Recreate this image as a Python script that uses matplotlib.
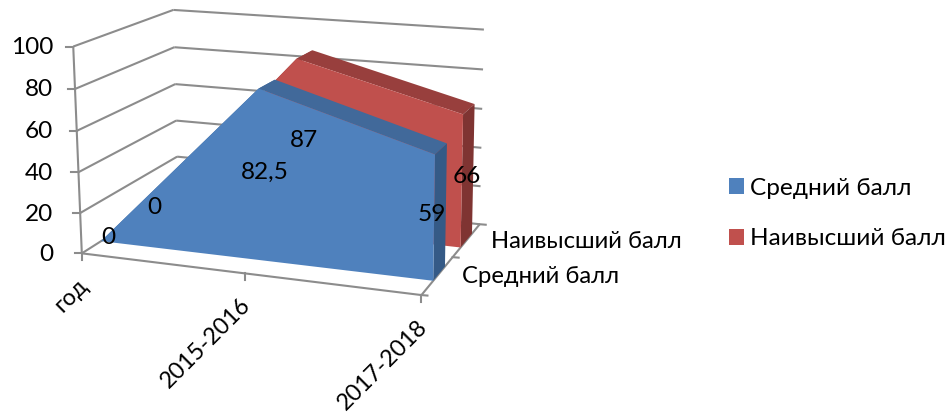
import matplotlib
matplotlib.use('Agg')
import matplotlib.pyplot as plt
import numpy as np

plt.rcParams['font.family'] = ['Lato', 'Open Sans', 'DejaVu Sans']

categories = ['год', '2015-2016', '2017-2018']
series_names = ['Средний балл', 'Наивысший балл']
avg_score = [0, 82.5, 59]
top_score = [0, 87, 66]
value_labels_avg = ['0', '82,5', '59']
value_labels_top = ['0', '87', '66']
y_ticks = [0, 20, 40, 60, 80, 100]

GRID = '#8c8c8c'
FS = 17.6

# walls of the 3d box: (x 0..1, depth 0..1, value 0..100) -> picture pixels
corners = [
    ((0, 0, 0), (82, 253)),
    ((1, 0, 0), (421, 296)),
    ((0, 1, 0), (178, 193)),
    ((1, 1, 0), (480, 223)),
    ((0, 0, 1), (73.5, 46)),
    ((0, 1, 1), (173, 10)),
    ((1, 1, 1), (484, 30)),
]


def fit_camera():
    rows = []
    for (X, Y, Z), (u, v) in corners:
        rows.append([X, Y, Z, 1, 0, 0, 0, 0, -u * X, -u * Y, -u * Z, -u])
        rows.append([0, 0, 0, 0, X, Y, Z, 1, -v * X, -v * Y, -v * Z, -v])
    return np.linalg.svd(np.array(rows))[2][-1].reshape(3, 4)


cam = fit_camera()


def project(x, d, val):
    p = cam @ np.array([x, d, val / 100, 1.0])
    return p[0] / p[2], p[1] / p[2]


def line(ax, a, b, lw=1.5):
    pa, pb = project(*a), project(*b)
    ax.plot([pa[0], pb[0]], [pa[1], pb[1]], color=GRID, lw=lw, solid_capstyle='butt', zorder=1)


def draw_area(ax, vals, d0, d1, front, top, side):
    xs = np.linspace(0, 1, len(vals))
    for i in range(len(vals) - 1):
        q = [project(xs[i], d0, vals[i]), project(xs[i + 1], d0, vals[i + 1]),
             project(xs[i + 1], d1, vals[i + 1]), project(xs[i], d1, vals[i])]
        ax.fill(*zip(*q), color=top, lw=0, zorder=2)
    q = [project(1, d0, 0), project(1, d1, 0), project(1, d1, vals[-1]), project(1, d0, vals[-1])]
    ax.fill(*zip(*q), color=side, lw=0, zorder=2)
    q = [project(x, d0, v) for x, v in zip(xs, vals)] + [project(1, d0, 0), project(0, d0, 0)]
    return ax.fill(*zip(*q), color=front, lw=0, zorder=2)[0]


fig = plt.figure(figsize=(9.48, 4.12), dpi=100)
ax = fig.add_axes([0, 0, 1, 1])
ax.set_xlim(0, 948)
ax.set_ylim(412, 0)
ax.axis('off')

# walls and floor
for t in y_ticks:
    if t > 0:
        line(ax, (0, 0, t), (0, 1, t))
        line(ax, (0, 1, t), (1, 1, t))
    tx, ty = project(0, 0, t)
    ax.plot([tx - 7, tx], [ty, ty], color=GRID, lw=1.5, zorder=1)
    ax.text(53, ty + 1, str(t), ha='right', va='center', fontsize=FS)
line(ax, (0, 0, 0), (0, 0, 100))
line(ax, (0, 0, 0), (1, 0, 0))
line(ax, (1, 0, 0), (1, 1, 0))
line(ax, (0, 0, 0), (0, 1, 0))
line(ax, (0, 1, 0), (1, 1, 0))

# ticks and labels along the floor
for x, name in zip(np.linspace(0, 1, len(categories)), categories):
    tx, ty = project(x, 0, 0)
    ax.plot([tx, tx], [ty, ty + 7], color=GRID, lw=1.5, zorder=1)
    ax.text(tx - 5, ty + 21, name, rotation=45, rotation_mode='anchor',
            ha='right', va='top', fontsize=16.8)
for d, name in zip([0.25, 0.75], series_names):
    tx, ty = project(1, d, 0)
    ax.text(tx + 24, ty + 1, name, ha='left', va='center', fontsize=17.2)
for d in [0, 0.5, 1]:
    tx, ty = project(1, d, 0)
    ax.plot([tx, tx + 6], [ty, ty + 0.5], color=GRID, lw=1.5, zorder=1)

red = draw_area(ax, top_score, 0.64, 0.85, '#C0504D', '#983F3D', '#7F3432')
blue = draw_area(ax, avg_score, 0.18, 0.37, '#4F81BD', '#41699A', '#355A86')

# Excel puts area labels half way up each point
for x, v, s in zip(np.linspace(0, 1, 3), top_score, value_labels_top):
    tx, ty = project(x, 0.73, v / 2)
    ax.text(tx, ty, s, ha='center', va='center', fontsize=FS, zorder=4)
for x, v, s in zip(np.linspace(0, 1, 3), avg_score, value_labels_avg):
    tx, ty = project(x, 0.27, v / 2)
    ax.text(tx - (8 if x == 1 else 2.5), ty + 2, s, ha='center', va='center', fontsize=FS, zorder=4)

ax.legend([blue, red], series_names, loc='upper left', bbox_to_anchor=(729 / 948, 1 - 178 / 412),
          bbox_transform=fig.transFigure, frameon=False, fontsize=FS, handlelength=0.62,
          handleheight=0.62, handletextpad=0.22, labelspacing=1.2, borderpad=0, borderaxespad=0)

fig.savefig('out.png', dpi=100)
